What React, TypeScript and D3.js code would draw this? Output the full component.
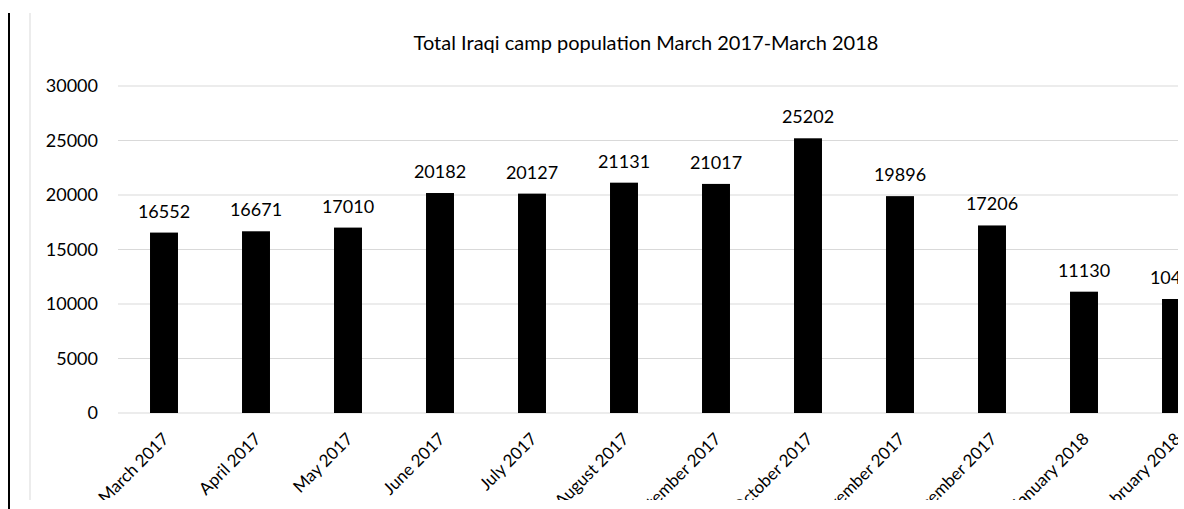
import React, { useEffect, useRef } from 'react';
import * as d3 from 'd3';

const months = [
  'March 2017', 'April 2017', 'May 2017', 'June 2017', 'July 2017', 'August 2017',
  'September 2017', 'October 2017', 'November 2017', 'December 2017', 'January 2018', 'February 2018',
];
const population = [16552, 16671, 17010, 20182, 20127, 21131, 21017, 25202, 19896, 17206, 11130, 10459];
const yTicks = [0, 5000, 10000, 15000, 20000, 25000, 30000];

const FONT = 'Lato, "Open Sans", sans-serif';

const App: React.FC = () => {
  const svgRef = useRef<SVGSVGElement>(null);

  useEffect(() => {
    if (!svgRef.current) return;
    const height = 509;
    const svg = d3.select(svgRef.current);
    svg.selectAll('*').remove();

    // outer frame lines
    svg.append('line')
      .attr('x1', 9).attr('x2', 9).attr('y1', 13).attr('y2', height)
      .attr('stroke', '#000').attr('stroke-width', 2);
    svg.append('line')
      .attr('x1', 30).attr('x2', 30).attr('y1', 13).attr('y2', 500)
      .attr('stroke', '#d9d9d9').attr('stroke-width', 1);

    svg.append('clipPath').attr('id', 'clip')
      .append('rect').attr('x', 0).attr('y', 0).attr('width', 1178).attr('height', 500);

    const g = svg.append('g').attr('clip-path', 'url(#clip)');

    const left = 118;
    const step = 92;
    const x = d3.scaleBand<string>()
      .domain(months)
      .range([left, left + step * months.length])
      .paddingInner(0.696)
      .paddingOuter(0.348);

    const y = d3.scaleLinear().domain([0, 30000]).range([413, 86]);

    // grid
    g.selectAll('line.grid')
      .data(yTicks)
      .enter()
      .append('line')
      .attr('x1', left)
      .attr('x2', 1178)
      .attr('y1', d => y(d))
      .attr('y2', d => y(d))
      .attr('stroke', '#d9d9d9')
      .attr('stroke-width', 1);

    // y labels
    svg.selectAll('text.ytick')
      .data(yTicks)
      .enter()
      .append('text')
      .attr('x', 98)
      .attr('y', d => y(d) + 6)
      .attr('text-anchor', 'end')
      .style('font-family', FONT)
      .style('font-size', '18px')
      .style('fill', '#000')
      .text(d => String(d));

    // bars
    g.selectAll('rect.bar')
      .data(population)
      .enter()
      .append('rect')
      .attr('x', (_, i) => x(months[i]) as number)
      .attr('y', d => y(d))
      .attr('width', x.bandwidth())
      .attr('height', d => y(0) - y(d))
      .attr('fill', '#000');

    // value labels
    g.selectAll('text.val')
      .data(population)
      .enter()
      .append('text')
      .attr('x', (_, i) => (x(months[i]) as number) + x.bandwidth() / 2)
      .attr('y', d => y(d) - 15)
      .attr('text-anchor', 'middle')
      .style('font-family', FONT)
      .style('font-size', '18px')
      .style('fill', '#000')
      .text(d => String(d));

    // x labels
    g.selectAll('text.xtick')
      .data(months)
      .enter()
      .append('text')
      .attr('transform', d => `translate(${(x(d) as number) + x.bandwidth() / 2 + 6},${440}) rotate(-45)`)
      .attr('text-anchor', 'end')
      .style('font-family', FONT)
      .style('font-size', '17px')
      .style('fill', '#000')
      .text(d => d);

    // title
    svg.append('text')
      .attr('x', 646)
      .attr('y', 50)
      .attr('text-anchor', 'middle')
      .style('font-family', FONT)
      .style('font-size', '20px')
      .style('fill', '#000')
      .text('Total Iraqi camp population March 2017-March 2018');
  }, []);

  return (
    <svg
      ref={svgRef}
      width={1184}
      height={509}
      style={{ position: 'absolute', left: 0, top: 0, background: '#fff' }}
    />
  );
};

export default App;
